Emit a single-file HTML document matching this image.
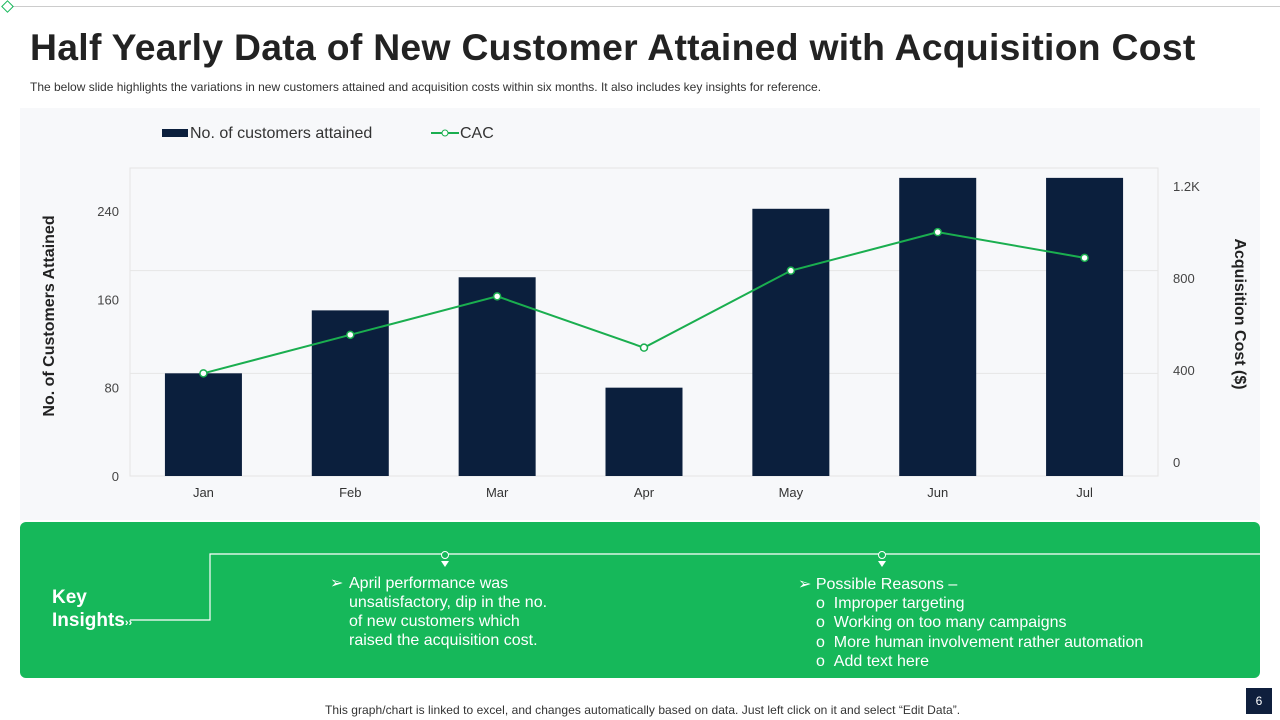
<!DOCTYPE html>
<html><head><meta charset="utf-8"><style>
body{margin:0;width:1280px;height:720px;background:#fff;font-family:"Liberation Sans",sans-serif;position:relative;overflow:hidden}
.abs{position:absolute}
</style></head><body>
<div class="abs" style="left:12px;top:6px;width:1268px;height:1px;background:#ccc"></div>
<div class="abs" style="left:3px;top:2px;width:7px;height:7px;border:1px solid #16b85a;transform:rotate(45deg)"></div>
<div class="abs" style="left:30px;top:26px;font-size:37.3px;font-weight:bold;color:#222;letter-spacing:0.3px">Half Yearly Data of New Customer Attained with Acquisition Cost</div>
<div class="abs" style="left:30px;top:80px;font-size:12px;color:#333">The below slide highlights the variations in new customers attained and acquisition costs within six months. It also includes key insights for reference.</div>
<div class="abs" style="left:20px;top:108px;width:1240px;height:412px;background:#f7f8fa"></div>
<svg class="abs" style="left:0;top:0" width="1280" height="720" id="chart"></svg>
<div class="abs" style="left:20px;top:522px;width:1240px;height:156px;background:#16b85a;border-radius:6px"></div>
<svg class="abs" style="left:0;top:0" width="1280" height="720">
<polyline points="130,620 210,620 210,554 1260,554" fill="none" stroke="#fff" stroke-width="1.2"/>
<circle cx="445" cy="555" r="3.5" fill="#16b85a" stroke="#fff"/><polygon points="441,561 449,561 445,567" fill="#fff"/>
<circle cx="882" cy="555" r="3.5" fill="#16b85a" stroke="#fff"/><polygon points="878,561 886,561 882,567" fill="#fff"/>
</svg>
<div class="abs" style="left:52px;top:586px;font-size:19px;font-weight:bold;color:#fff;line-height:23px">Key<br>Insights<span style="font-size:11px">››</span></div>
<div class="abs" style="left:330px;top:574px;font-size:16px;color:#fff;line-height:19px"><span style="position:absolute;left:0">➢</span><div style="margin-left:19px">April performance was<br>unsatisfactory, dip in the no.<br>of new customers which<br>raised the acquisition cost.</div></div>
<div class="abs" style="left:798px;top:575px;font-size:16px;color:#fff;line-height:19.2px">➢ Possible Reasons –<br>
<div style="margin-left:18px">ο&nbsp; Improper targeting<br>ο&nbsp; Working on too many campaigns<br>ο&nbsp; More human involvement rather automation<br>ο&nbsp; Add text here</div></div>
<div class="abs" style="left:325px;top:703px;font-size:12px;color:#333;letter-spacing:0.05px">This graph/chart is linked to excel, and changes automatically based on data. Just left click on it and select “Edit Data”.</div>
<div class="abs" style="left:1246px;top:688px;width:26px;height:26px;background:#0f1f3d;color:#fff;font-size:12px;text-align:center;line-height:26px">6</div>
<script>
const categories=["Jan","Feb","Mar","Apr","May","Jun","Jul"];
const customers=[93,150,180,80,242,270,270];
const cac=[400,550,700,500,800,950,850];
const leftTicks=[0,80,160,240];
const rightTicks=[0,400,800,1200];
const rightTickLabels=["0","400","800","1.2K"];
const svg=document.getElementById('chart');const NS="http://www.w3.org/2000/svg";
const X0=130,X1=1158,Y0=476;
const band=(X1-X0)/categories.length;
const xc=i=>X0+band*(i+0.5);
const yL=v=>Y0-v*(265/240);
const yR=v=>Y0-v*(308/1200);
const yRLabel=v=>462-v*(276/1200);
function el(t,a,p){const e=document.createElementNS(NS,t);for(const k in a)e.setAttribute(k,a[k]);(p||svg).appendChild(e);return e;}
let e;
e=el('rect',{x:X0,y:168,width:X1-X0,height:Y0-168,fill:'none',stroke:'#e4e4e4'});

rightTicks.forEach((t,i)=>{if(t>0&&t<1200){e=el('line',{x1:X0,x2:X1,y1:yR(t),y2:yR(t),stroke:'#e6e6e6'});}
e=el('text',{x:1173,y:yRLabel(t)+5,'font-size':13,fill:'#444'});e.textContent=rightTickLabels[i];});
leftTicks.forEach(t=>{e=el('text',{x:119,y:yL(t)+5,'font-size':13,fill:'#444','text-anchor':'end'});e.textContent=t;});
categories.forEach((c,i)=>{e=el('rect',{x:xc(i)-38.5,y:yL(customers[i]),width:77,height:Y0-yL(customers[i]),fill:'#0b1f3d'});
e=el('text',{x:xc(i),y:497,'font-size':13,fill:'#333','text-anchor':'middle'});e.textContent=c;});
e=el('polyline',{points:cac.map((v,i)=>xc(i)+','+yR(v)).join(' '),fill:'none',stroke:'#1aae4f','stroke-width':2});

cac.forEach((v,i)=>{e=el('circle',{cx:xc(i),cy:yR(v),r:3.5,fill:'#fff',stroke:'#1aae4f','stroke-width':1.5});});
e=el('text',{x:0,y:0,'font-size':16,'font-weight':'bold',fill:'#222','text-anchor':'middle',transform:'translate(54,316) rotate(-90)'});e.textContent='No. of Customers Attained';
e=el('text',{x:0,y:0,'font-size':16,'font-weight':'bold',fill:'#222','text-anchor':'middle',transform:'translate(1235,314) rotate(90)'});e.textContent='Acquisition Cost ($)';
e=el('rect',{x:162,y:129,width:26,height:8,fill:'#0b1f3d'});
e=el('text',{x:190,y:138,'font-size':16,fill:'#333'});e.textContent='No. of customers attained';
e=el('line',{x1:431,x2:459,y1:133,y2:133,stroke:'#1aae4f','stroke-width':2});
e=el('circle',{cx:445,cy:133,r:3,fill:'#fff',stroke:'#1aae4f'});
e=el('text',{x:460,y:138,'font-size':16,fill:'#333'});e.textContent='CAC';
</script>
</body></html>
